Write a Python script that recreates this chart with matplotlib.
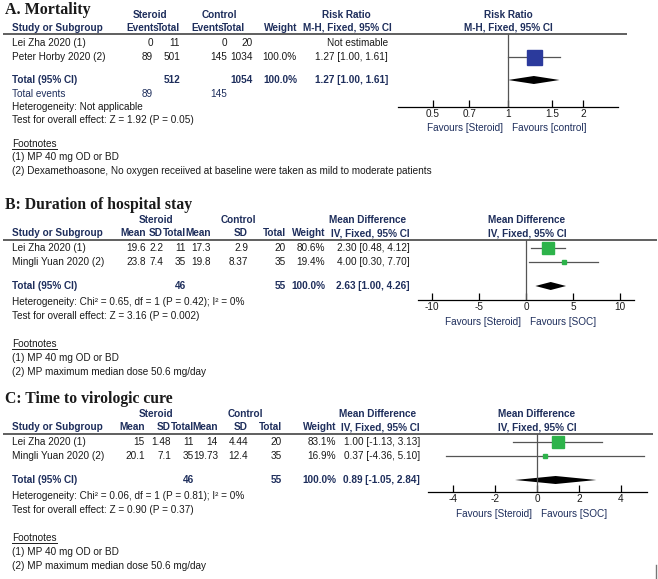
import matplotlib
matplotlib.use("Agg")
import matplotlib.pyplot as plt
from matplotlib.ticker import NullLocator, FixedLocator, FixedFormatter

W, H = 658, 579
NAVY = "#1e2e5c"
INK = "#1a1a1a"
GREY = "#555555"
SANS = "Liberation Sans"
SERIF = "Liberation Serif"
FS = 7.2

# A. Mortality (risk ratio)
a_studies = ["Lei Zha 2020 (1)", "Peter Horby 2020 (2)"]
a_ster_events = [0, 89]
a_ster_total = [11, 501]
a_ctrl_events = [0, 145]
a_ctrl_total = [20, 1034]
a_weight = [None, 100.0]
a_rr = [None, 1.27]
a_lo = [None, 1.00]
a_hi = [None, 1.61]
a_total = [512, 1054, 100.0, 1.27, 1.00, 1.61]
a_total_events = [89, 145]
a_ticks = [0.5, 0.7, 1, 1.5, 2]
a_tick_labels = ["0.5", "0.7", "1", "1.5", "2"]

# B. Duration of hospital stay (mean difference)
b_studies = ["Lei Zha 2020 (1)", "Mingli Yuan 2020 (2)"]
b_s_mean = [19.6, 23.8]
b_s_sd = [2.2, 7.4]
b_s_n = [11, 35]
b_c_mean = [17.3, 19.8]
b_c_sd = [2.9, 8.37]
b_c_n = [20, 35]
b_weight = [80.6, 19.4]
b_md = [2.30, 4.00]
b_lo = [0.48, 0.30]
b_hi = [4.12, 7.70]
b_total = [46, 55, 100.0, 2.63, 1.00, 4.26]
b_ticks = [-10, -5, 0, 5, 10]

# C. Time to virologic cure (mean difference)
c_studies = ["Lei Zha 2020 (1)", "Mingli Yuan 2020 (2)"]
c_s_mean = [15, 20.1]
c_s_sd = [1.48, 7.1]
c_s_n = [11, 35]
c_c_mean = [14, 19.73]
c_c_sd = [4.44, 12.4]
c_c_n = [20, 35]
c_weight = [83.1, 16.9]
c_md = [1.00, 0.37]
c_lo = [-1.13, -4.36]
c_hi = [3.13, 5.10]
c_total = [46, 55, 100.0, 0.89, -1.05, 2.84]
c_ticks = [-4, -2, 0, 2, 4]

fig = plt.figure(figsize=(W / 100, H / 100), dpi=100)
bg = fig.add_axes([0, 0, 1, 1])
bg.set_xlim(0, W)
bg.set_ylim(H, 0)
bg.axis("off")


def txt(x, y, s, ha="left", bold=False, color=INK, size=FS, family=SANS):
    return bg.text(x, y, s, ha=ha, va="center", fontsize=size, family=family,
                   fontweight="bold" if bold else "normal", color=color)


def hline(x0, x1, y, lw=1.2, color="#444444"):
    bg.plot([x0, x1], [y, y], color=color, lw=lw, solid_capstyle="butt")


def px_axes(x0, x1, y0, y1):
    ax = fig.add_axes([x0 / W, 1 - y1 / H, (x1 - x0) / W, (y1 - y0) / H])
    ax.set_ylim(y1, y0)
    ax.patch.set_alpha(0)
    for s in ["top", "left", "right"]:
        ax.spines[s].set_visible(False)
    ax.spines["bottom"].set_linewidth(0.9)
    ax.set_yticks([])
    ax.tick_params(axis="x", direction="in", length=5, width=0.9, pad=1.5,
                   labelsize=FS, labelcolor=INK)
    return ax


def side_px(w):
    return max(15 * w / 100, 4)


def forest_marks(ax, rows_y, est, lo, hi, weight, total_y, tot, null, color):
    ax.axvline(null, color=GREY, lw=0.9)
    for y, e, l, h, w in zip(rows_y, est, lo, hi, weight):
        if e is None:
            continue
        ax.plot([l, h], [y, y], color=GREY, lw=0.9)
        ax.plot([e], [y], marker="s", color=color, ms=side_px(w) * 0.72,
                mec=color, lw=0)
    m, l, h = tot[3], tot[4], tot[5]
    ax.fill([l, m, h, m], [total_y, total_y - 4, total_y, total_y + 4],
            color="black", lw=0)


footnote_titles = []

# ---------------- Panel A ----------------
txt(5, 10, "A. Mortality", bold=True, size=11.5, family=SERIF)
txt(150, 15, "Steroid", ha="center", bold=True, color=NAVY)
txt(219, 15, "Control", ha="center", bold=True, color=NAVY)
txt(346, 15, "Risk Ratio", ha="center", bold=True, color=NAVY)
txt(508, 15, "Risk Ratio", ha="center", bold=True, color=NAVY)
txt(12, 28, "Study or Subgroup", bold=True, color=NAVY)
for x, s in [(159, "Events"), (180, "Total"), (224, "Events"), (245, "Total"),
             (297, "Weight")]:
    txt(x, 28, s, ha="right", bold=True, color=NAVY)
txt(347, 28, "M-H, Fixed, 95% CI", ha="center", bold=True, color=NAVY)
txt(508, 28, "M-H, Fixed, 95% CI", ha="center", bold=True, color=NAVY)
hline(3, 627, 34)

a_rows = [43, 57]
for y, name, se, st, ce, ct, w, rr, lo, hi in zip(a_rows, a_studies, a_ster_events,
                                                  a_ster_total, a_ctrl_events, a_ctrl_total,
                                                  a_weight, a_rr, a_lo, a_hi):
    txt(12, y, name)
    txt(153, y, str(se), ha="right")
    txt(180, y, str(st), ha="right")
    txt(227, y, str(ce), ha="right")
    txt(253, y, str(ct), ha="right")
    if w is None:
        txt(388, y, "Not estimable", ha="right")
    else:
        txt(297, y, f"{w:.1f}%", ha="right")
        txt(388, y, f"{rr:.2f} [{lo:.2f}, {hi:.2f}]", ha="right")

txt(12, 80, "Total (95% CI)", bold=True, color=NAVY)
txt(180, 80, str(a_total[0]), ha="right", bold=True, color=NAVY)
txt(253, 80, str(a_total[1]), ha="right", bold=True, color=NAVY)
txt(297, 80, f"{a_total[2]:.1f}%", ha="right", bold=True, color=NAVY)
txt(388, 80, f"{a_total[3]:.2f} [{a_total[4]:.2f}, {a_total[5]:.2f}]", ha="right",
    bold=True, color=NAVY)
txt(12, 94, "Total events", color=NAVY)
txt(153, 94, str(a_total_events[0]), ha="right", color=NAVY)
txt(227, 94, str(a_total_events[1]), ha="right", color=NAVY)
txt(12, 107, "Heterogeneity: Not applicable")
txt(12, 120, "Test for overall effect: Z = 1.92 (P = 0.05)")
footnote_titles.append(txt(12, 144, "Footnotes"))
txt(12, 157, "(1) MP 40 mg OD or BD")
txt(12, 171, "(2) Dexamethoasone, No oxygen receiived at baseline were taken as mild to moderate patients")

ax_a = px_axes(398, 618, 34, 107)
ax_a.set_xscale("log")
ax_a.set_xlim(0.3618, 2.764)
ax_a.xaxis.set_major_locator(FixedLocator(a_ticks))
ax_a.xaxis.set_major_formatter(FixedFormatter(a_tick_labels))
ax_a.xaxis.set_minor_locator(NullLocator())
for lab in ax_a.get_xticklabels():
    lab.set_family(SANS)
forest_marks(ax_a, a_rows, a_rr, a_lo, a_hi, [100 if w is None else w for w in a_weight],
             80, a_total, 1, "#2b3a9c")
txt(503, 128, "Favours [Steroid]", ha="right", color=NAVY)
txt(512, 128, "Favours [control]", color=NAVY)


# ---------------- Panels B and C ----------------
def md_panel(top, title, studies, s_mean, s_sd, s_n, c_mean, c_sd, c_n, weight,
             md, lo, hi, tot, het, test, cols, ctrl_c, md_c, plot_c, line_end,
             ax_x, ax_y, xlim, ticks, null_x):
    t, h1, h2, ul = top, top + 15, top + 28, top + 35
    r1, r2, tr = top + 43, top + 57, top + 81
    txt(5, t, title, bold=True, size=11.3, family=SERIF)
    txt(156, h1, "Steroid", ha="center", bold=True, color=NAVY)
    txt(ctrl_c, h1, "Control", ha="center", bold=True, color=NAVY)
    txt(md_c, h1, "Mean Difference", ha="center", bold=True, color=NAVY)
    txt(plot_c, h1, "Mean Difference", ha="center", bold=True, color=NAVY)
    txt(12, h2, "Study or Subgroup", bold=True, color=NAVY)
    for x, s in zip(cols[:7], ["Mean", "SD", "Total", "Mean", "SD", "Total", "Weight"]):
        txt(x, h2, s, ha="right", bold=True, color=NAVY)
    txt(md_c + 2, h2, "IV, Fixed, 95% CI", ha="center", bold=True, color=NAVY)
    txt(plot_c, h2, "IV, Fixed, 95% CI", ha="center", bold=True, color=NAVY)
    hline(3, line_end, ul)
    rows = [r1, r2]
    for i, y in enumerate(rows):
        txt(12, y, studies[i])
        vals = [f"{s_mean[i]:g}", f"{s_sd[i]:g}", str(s_n[i]), f"{c_mean[i]:g}",
                f"{c_sd[i]:g}", str(c_n[i]), f"{weight[i]:.1f}%",
                f"{md[i]:.2f} [{lo[i]:.2f}, {hi[i]:.2f}]"]
        for x, v in zip(cols, vals):
            txt(x, y, v, ha="right")
    txt(12, tr, "Total (95% CI)", bold=True, color=NAVY)
    txt(cols[2], tr, str(tot[0]), ha="right", bold=True, color=NAVY)
    txt(cols[5], tr, str(tot[1]), ha="right", bold=True, color=NAVY)
    txt(cols[6], tr, f"{tot[2]:.1f}%", ha="right", bold=True, color=NAVY)
    txt(cols[7], tr, f"{tot[3]:.2f} [{tot[4]:.2f}, {tot[5]:.2f}]", ha="right",
        bold=True, color=NAVY)
    txt(12, tr + 16, het)
    txt(12, tr + 30, test)
    footnote_titles.append(txt(12, tr + 58, "Footnotes"))
    txt(12, tr + 72, "(1) MP 40 mg OD or BD")
    txt(12, tr + 86, "(2) MP maximum median dose 50.6 mg/day")

    ax = px_axes(ax_x[0], ax_x[1], ul, ax_y)
    ax.set_xlim(*xlim)
    ax.set_xticks(ticks)
    ax.set_xticklabels([str(v) for v in ticks], family=SANS)
    forest_marks(ax, rows, md, lo, hi, weight, tr, tot, 0, "#2db34a")
    txt(null_x - 5, ax_y + 22, "Favours [Steroid]", ha="right", color=NAVY)
    txt(null_x + 4, ax_y + 22, "Favours [SOC]", color=NAVY)


md_panel(205, "B: Duration of hospital stay", b_studies, b_s_mean, b_s_sd, b_s_n,
         b_c_mean, b_c_sd, b_c_n, b_weight, b_md, b_lo, b_hi, b_total,
         "Heterogeneity: Chi\u00b2 = 0.65, df = 1 (P = 0.42); I\u00b2 = 0%",
         "Test for overall effect: Z = 3.16 (P = 0.002)",
         [146, 163, 186, 211, 248, 286, 325, 410], 238, 368, 527, 657,
         (418, 634), 300, (-11.49, 11.49), b_ticks, 526)

md_panel(399, "C: Time to virologic cure", c_studies, c_s_mean, c_s_sd, c_s_n,
         c_c_mean, c_c_sd, c_c_n, c_weight, c_md, c_lo, c_hi, c_total,
         "Heterogeneity: Chi\u00b2 = 0.06, df = 1 (P = 0.81); I\u00b2 = 0%",
         "Test for overall effect: Z = 0.90 (P = 0.37)",
         [145, 171, 194, 218, 248, 282, 336, 420], 245, 378, 537, 653,
         (428, 647), 492, (-5.215, 5.263), c_ticks, 537)

# underline the footnote titles
fig.canvas.draw()
r = fig.canvas.get_renderer()
inv = bg.transData.inverted()
for t in footnote_titles:
    bb = t.get_window_extent(renderer=r)
    (x0, y0), (x1, y1) = inv.transform([(bb.x0, bb.y0), (bb.x1, bb.y1)])
    bg.plot([x0, x1], [y0 - 0.5, y0 - 0.5], color=INK, lw=0.7)

# small mark at the bottom right corner of the page
bg.plot([656, 656], [565, 579], color="#777777", lw=1)

fig.savefig("out.png", dpi=100)
